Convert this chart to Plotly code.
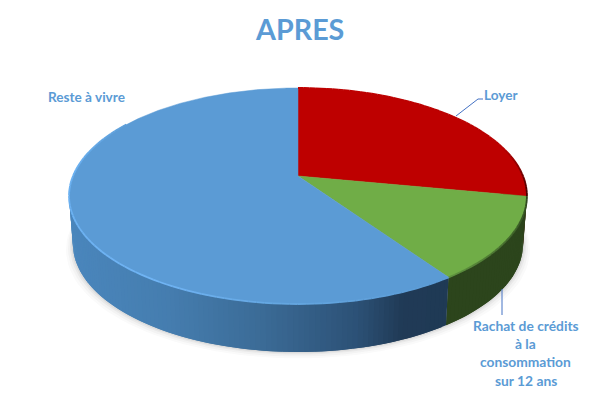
import math
import plotly.graph_objects as go

title = "APRES"
categories = ["Loyer", "Rachat de crédits à la consommation sur 12 ans", "Reste à vivre"]
values = [28, 12.4, 59.6]

top_colors = ["#BE0000", "#70AD47", "#5B9BD5"]
TEXT = "#5B9BD5"
LEAD = "#4472C4"

# projection of the disc (perspective view)
CX, CY = 298, 176
A, B, K = 225, 104.3, 0.185
DEPTH_X, DEPTH_Y = 0.983, 48


def proj(theta, bottom=False):
    s, c = math.sin(theta), math.cos(theta)
    d = 1 + K * c
    x = A * s / d
    y = -B * c / d
    if bottom:
        return CX + x * DEPTH_X, CY + y + DEPTH_Y
    return CX + x, CY + y


def lerp_hex(stops, t):
    t = max(0, min(1, t))
    for (t0, c0), (t1, c1) in zip(stops, stops[1:]):
        if t <= t1:
            f = (t - t0) / (t1 - t0)
            rgb = [round(int(c0[i:i + 2], 16) * (1 - f) + int(c1[i:i + 2], 16) * f) for i in (1, 3, 5)]
            return "rgb(%d,%d,%d)" % tuple(rgb)
    return c1


blue_wall = [(0, "#4A86BC"), (0.25, "#457DAF"), (0.5, "#3B6B96"), (0.75, "#2C5176"), (0.87, "#203A56"), (1, "#1F3A55")]
green_wall = [(0, "#2A401B"), (1, "#2C451C")]
red_wall = [(0, "#5A0000"), (1, "#5A0000")]
wall_stops = [red_wall, green_wall, blue_wall]

fig = go.Figure()


def poly(xs, ys, color, lw=0.0):
    fig.add_trace(go.Scatter(x=xs, y=ys, mode="lines", fill="toself", fillcolor=color,
                             line=dict(color=color, width=lw), hoverinfo="skip", showlegend=False))


# soft shadow below the wall
for grow, alpha in [(7, 0.025), (5, 0.035), (3, 0.05), (1.5, 0.07)]:
    ts = [math.pi * (0.45 + 1.1 * i / 80) for i in range(81)]
    xs = [proj(t, True)[0] + (grow * math.sin(t)) for t in ts]
    ys = [proj(t, True)[1] + grow * 0.9 for t in ts]
    poly(xs, ys, "rgba(60,60,60,%.3f)" % alpha, 0)

# slice boundaries from the values
total = sum(values)
bounds = [0]
for v in values:
    bounds.append(bounds[-1] + v / total * 2 * math.pi)

# side wall: overlapping strips so that no seams show
for i, stops in enumerate(wall_stops):
    t0, t1 = bounds[i], bounds[i + 1]
    n = max(2, int((t1 - t0) / 0.02))
    step = (t1 - t0) / n
    for j in range(n):
        a = t0 + step * j
        b = min(t1, a + step * 2)
        if math.cos(a + step / 2) > 0.25:
            continue
        xa, ya = proj(a)
        xb, yb = proj(b)
        xc, yc = proj(b, True)
        xd, yd = proj(a, True)
        col = lerp_hex(stops, ((xa + xb) / 2 - 70) / (450 - 70))
        poly([xa, xb, xc, xd, xa], [ya, yb, yc, yd, ya], col)

# top faces
for i, col in enumerate(top_colors):
    t0, t1 = bounds[i], bounds[i + 1]
    n = max(8, int((t1 - t0) / 0.01))
    pts = [proj(t0 + (t1 - t0) * j / n) for j in range(n + 1)]
    xs = [CX] + [p[0] for p in pts] + [CX]
    ys = [CY] + [p[1] for p in pts] + [CY]
    poly(xs, ys, col, 0.5)

# bevel along the front rim
rim_stops = [[(0, "#BE0000"), (0.72, "#B80000"), (1, "#3A0000")],
             [(0, "#2C451C"), (1, "#5F9440")],
             [(0, "#5B9BD5"), (0.17, "#64A6E0"), (0.3, "#70B4F4"), (0.6, "#6AB0F0"), (0.75, "#5B9BD5"), (1, "#5B9BD5")]]
for i, stops in enumerate(rim_stops):
    t0, t1 = bounds[i], bounds[i + 1]
    n = max(2, int((t1 - t0) / 0.03))
    for j in range(n):
        a = t0 + (t1 - t0) * j / n
        b = t0 + (t1 - t0) * (j + 1) / n
        if math.cos((a + b) / 2) > 0.55 and i != 0:
            continue
        xa, ya = proj(a)
        xb, yb = proj(b)
        col = lerp_hex(stops, j / n)
        fig.add_trace(go.Scatter(x=[xa, xb], y=[ya, yb], mode="lines", line=dict(color=col, width=1.8),
                                 hoverinfo="skip", showlegend=False))

notes = [
    dict(text=title, x=299, y=29, size=28.7),
    dict(text=categories[2], x=86, y=97, size=13.6),
    dict(text=categories[0], x=501, y=95, size=13.6),
    dict(text="Rachat de crédits", x=525.5, y=325, size=13.8),
    dict(text="à la", x=525.5, y=343, size=13.8),
    dict(text="consommation", x=525.5, y=361, size=13.8),
    dict(text="sur 12 ans", x=525.5, y=380, size=13.8),
]
fig.update_layout(
    width=600, height=400, margin=dict(l=0, r=0, t=0, b=0), showlegend=False,
    paper_bgcolor="white", plot_bgcolor="white", hovermode=False,
    xaxis=dict(range=[0, 600], visible=False, fixedrange=True),
    yaxis=dict(range=[400, 0], visible=False, fixedrange=True),
    annotations=[dict(text="<b>%s</b>" % n["text"], x=n["x"], y=n["y"], xref="x", yref="y", showarrow=False,
                      xanchor="center", yanchor="middle",
                      font=dict(family="Lato, 'Open Sans', sans-serif", size=n["size"], color=TEXT)) for n in notes],
    shapes=[
        dict(type="path", path="M 456 116 L 478 99 L 483 99", line=dict(color=LEAD, width=1), layer="above"),
        dict(type="line", x0=502, y0=289, x1=502, y1=315, line=dict(color=LEAD, width=1), layer="above"),
    ],
)
fig.write_html("out.html", config=dict(displayModeBar=False),
               post_script="document.body.style.margin='0';document.documentElement.style.overflow='hidden';")
